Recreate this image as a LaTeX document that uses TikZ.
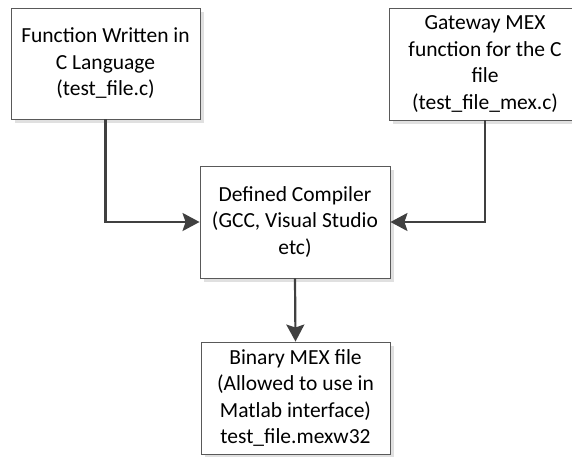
\documentclass[tikz,border=0pt]{standalone}
\usepackage{fontspec}
\setmainfont{Carlito}
\usetikzlibrary{arrows.meta,shadows}
\definecolor{edge}{HTML}{595959}
\definecolor{flow}{HTML}{404040}
\definecolor{shade}{HTML}{E0E0E0}
\tikzset{
  procbox/.style={draw=edge, line width=0.9pt, fill=white, align=center,
    font=\fontsize{21.5}{26.5}\selectfont, inner sep=0pt,
    drop shadow={shadow xshift=3.5pt, shadow yshift=-4pt, fill=shade, opacity=1}},
  flowline/.style={draw=flow, line width=2.2pt,
    -{Stealth[length=17pt, width=18pt, inset=3pt]}}
}
\begin{document}
\begin{tikzpicture}[x=1pt, y=-1pt]
  \useasboundingbox (0,0) rectangle (572,457);
  \clip (0,0) rectangle (572,457);
  % source and gateway files
  \node[procbox, minimum width=189pt, minimum height=111pt] (src) at (105.5,63.5)
    {Function Written in\\C Language\\(test\_file.c)};
  \node[procbox, minimum width=192pt, minimum height=112pt] (gate) at (485,64)
    {Gateway MEX\\function for the C\\file\\(test\_file\_mex.c)};
  % compiler
  \node[procbox, minimum width=190pt, minimum height=112pt] (comp) at (295,222)
    {Defined Compiler\\(GCC, Visual Studio\\etc)};
  % result
  \node[procbox, minimum width=189pt, minimum height=112pt] (bin) at (295.5,398)
    {Binary MEX file\\(Allowed to use in\\Matlab interface)\\test\_file.mexw32};
  % connectors
  \draw[flowline] (src.south) |- (comp.west);
  \draw[flowline] (gate.south) |- (comp.east);
  \draw[flowline] (comp.south) -- (bin.north);
\end{tikzpicture}
\end{document}
